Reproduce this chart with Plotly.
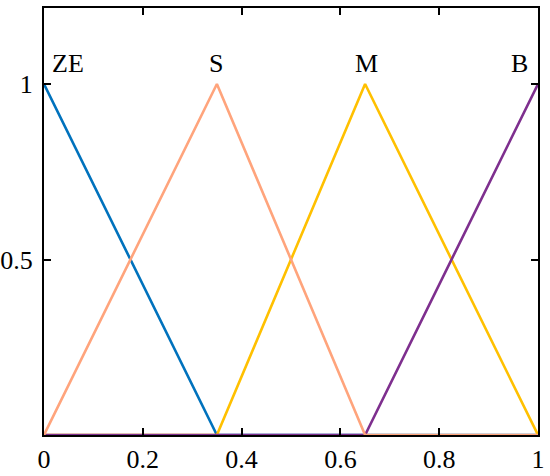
import plotly.graph_objects as go

# membership function breakpoints
ze_x = [0, 0.35, 1]
ze_y = [1, 0, 0]
m_x = [0, 0.35, 0.65, 1]
m_y = [0, 0, 1, 0]
b_x = [0, 0.65, 1]
b_y = [0, 0, 1]
s_x = [0, 0.35, 0.65, 1]
s_y = [0, 1, 0, 0]

labels = ["ZE", "S", "M", "B"]
label_x = [0.048, 0.348, 0.652, 0.962]

x_ticks = [0, 0.2, 0.4, 0.6, 0.8, 1]
x_tick_text = ["0", "0.2", "0.4", "0.6", "0.8", "1"]
y_ticks = [0.5, 1]
y_tick_text = ["0.5", "1"]

fig = go.Figure()
fig.add_trace(go.Scatter(x=ze_x, y=ze_y, mode="lines", line=dict(color="#0072BD", width=2.6)))
fig.add_trace(go.Scatter(x=m_x, y=m_y, mode="lines", line=dict(color="#FFC000", width=2.6)))
fig.add_trace(go.Scatter(x=b_x, y=b_y, mode="lines", line=dict(color="#7E2F8E", width=2.6)))
fig.add_trace(go.Scatter(x=s_x, y=s_y, mode="lines", line=dict(color="#FFA47C", width=2.6)))

for t, xv in zip(labels, label_x):
    fig.add_annotation(x=xv, y=1.057, text=t, showarrow=False, xanchor="center", yanchor="middle",
                       font=dict(family="Liberation Serif", size=26, color="black"))

axis_common = dict(showgrid=False, zeroline=False, showline=True, linecolor="black", linewidth=2,
                   mirror="ticks", ticks="inside", ticklen=7, tickwidth=2, tickcolor="black",
                   automargin=False,
                   tickfont=dict(family="Liberation Serif", size=26, color="black"))

fig.update_xaxes(range=[0, 1], tickvals=x_ticks, ticktext=x_tick_text, **axis_common)
fig.update_yaxes(range=[0, 1.2165], tickvals=y_ticks, ticktext=y_tick_text,
                 ticklabelstandoff=4, **axis_common)

fig.update_layout(width=550, height=476, showlegend=False,
                  plot_bgcolor="white", paper_bgcolor="white",
                  margin=dict(l=44, r=12, t=8, b=41))

fig.write_html("out.html", config={"displayModeBar": False},
               post_script="document.body.style.margin='0';document.body.style.overflow='hidden';")
